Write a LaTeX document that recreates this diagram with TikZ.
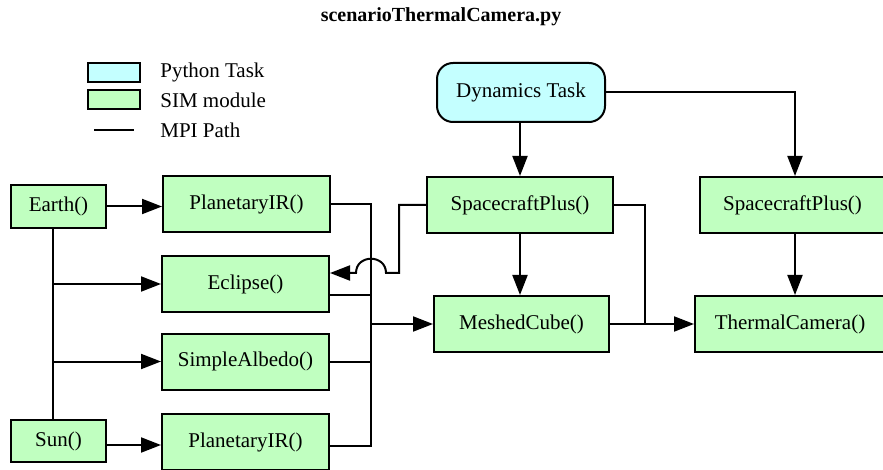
\documentclass[tikz,border=0pt]{standalone}
\usepackage{fontspec}
\setmainfont{Liberation Serif}
\usetikzlibrary{arrows.meta}

\definecolor{simgreen}{RGB}{192,255,192}
\definecolor{pycyan}{RGB}{196,255,255}

\begin{document}
\begin{tikzpicture}[x=1pt,y=-1pt,line width=2pt,
    >={Triangle[length=20pt,width=15pt]},
    font=\fontsize{21}{24}\selectfont]

        \clip (0,0) rectangle (883,470);

        \node[font=\fontsize{20}{24}\selectfont\bfseries] (title) at (441,17) {scenarioThermalCamera.py};

        % legend
        \begin{scope}[every node/.style={draw,inner sep=0pt,minimum width=52pt,minimum height=19pt}]
          \node[fill=pycyan]   (legpy)  at (114,72.5)  {};
          \node[fill=simgreen] (legsim) at (114,100) {};
        \end{scope}
        \coordinate (legA) at (94,130);
        \coordinate (legB) at (134,130);
        \draw (legA) -- (legB);
        \node[anchor=west] (legpytxt)  at (156,72.5) {Python Task};
        \node[anchor=west] (legsimtxt) at (156,100)  {SIM module};
        \node[anchor=west] (legmpitxt) at (156,130)  {MPI Path};

        \node[draw,fill=pycyan,rounded corners=16pt,minimum width=168pt,minimum height=59pt]
          (dyn) at (521,92.5) {Dynamics Task};

        \begin{scope}[every node/.style={draw,fill=simgreen,inner sep=0pt,minimum height=56pt}]
          \node[minimum width=95pt,minimum height=43pt]  (earth) at (58.5,206.5) {Earth()};
          \node[minimum width=95pt,minimum height=42pt]  (sun)   at (58.5,441)   {Sun()};
          \node[minimum width=167pt] (pirE)  at (246.5,204)  {PlanetaryIR()};
          \node[minimum width=167pt] (ecl)   at (245.5,284)  {Eclipse()};
          \node[minimum width=167pt] (alb)   at (245.5,361.5) {SimpleAlbedo()};
          \node[minimum width=167pt] (pirS)  at (245.5,442)  {PlanetaryIR()};
          \node[minimum width=186pt] (scA)   at (520,205)    {SpacecraftPlus()};
          \node[minimum width=175pt] (mesh)  at (521.5,324)  {MeshedCube()};
          \node[minimum width=185pt] (scB)   at (792.5,205)  {SpacecraftPlus()};
          \node[minimum width=190pt] (cam)   at (790,324)    {ThermalCamera()};
        \end{scope}

        \coordinate (spine) at (53,0);
        \coordinate (bus)   at (371,0);
        \coordinate (camJ)  at (645,0);
        \coordinate (drop)  at (795,0);

        % sources
        \draw (spine |- earth.south) -- (spine |- sun.north);
        \draw[->] (earth.east) -- (earth.east -| pirE.west);
        \draw[->] (spine |- ecl.west) -- (ecl.west);
        \draw[->] (spine |- alb.west) -- (alb.west);
        \draw[->] ([yshift=-4pt]sun.east) -- ([yshift=-4pt]sun.east -| pirS.west);

        % environment bus
        \draw (pirE.east) -- (bus |- pirE.east) -- (bus |- 0,446) -- ([yshift=-4pt]pirS.east);
        \draw ([yshift=-11pt]ecl.east) -- (bus |- 0,295);
        \draw (alb.east) -- (bus |- alb.east);
        \draw[->] (bus |- mesh.west) -- (mesh.west);

        % spacecraft to eclipse, hopping over the bus
        \draw[->] (scA.west) -- ++(-27,0) |- (386,273)
          .. controls (386,254) and (356,254) .. (356,273) -- ([yshift=11pt]ecl.east);

        % dynamics
        \draw[->] (scA.north |- dyn.south) -- (scA.north);
        \draw[->] (dyn.east) -- (drop |- dyn.east) -- (drop |- scB.north);
        \draw[->] (scA.south) -- (scA.south |- mesh.north);
        \draw[->] (drop |- scB.south) -- (drop |- cam.north);
        \draw (scA.east) -| (camJ |- mesh.east);
        \draw[->] (mesh.east) -- (cam.west);

      \end{tikzpicture}
\end{document}
